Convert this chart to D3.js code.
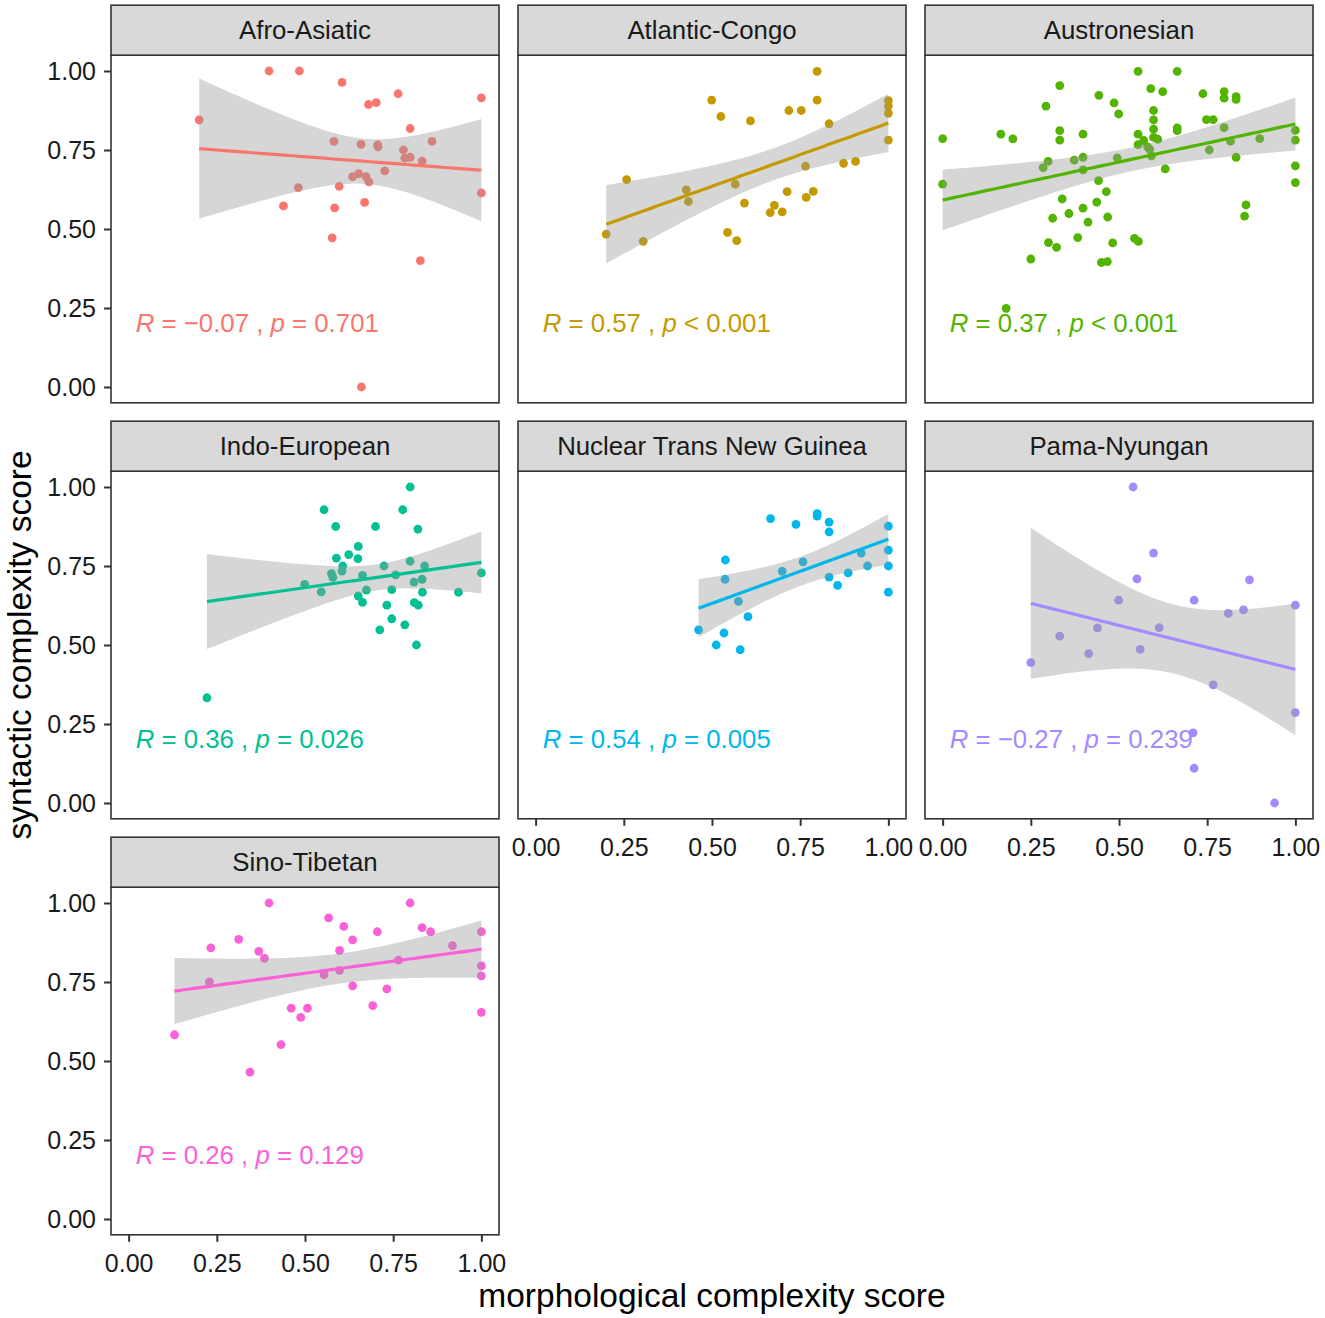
<!DOCTYPE html>
<html>
<head>
<meta charset="utf-8">
<script src="https://cdn.jsdelivr.net/npm/d3@7"></script>
<style>
  body { margin: 0; background: #fff; }
  text { font-family: "Liberation Sans", Arial, sans-serif; }
</style>
</head>
<body>
<svg id="chart" width="1325" height="1318"></svg>
<script>
// facet names, in panel order
var families = ["Afro-Asiatic", "Atlantic-Congo", "Austronesian", "Indo-European",
    "Nuclear Trans New Guinea", "Pama-Nyungan", "Sino-Tibetan"]

// [morphological, syntactic] per language
var afroAsiatic = [[0.200,0.845],[0.398,1.00],[0.484,1.00],[0.605,0.964],[0.680,0.894],[0.702,0.900],
    [0.764,0.928],[1.00,0.915],[0.798,0.818],[0.582,0.777],[0.659,0.768],[0.706,0.766],[0.707,0.760],
    [0.860,0.777],[0.779,0.750],[0.783,0.724],[0.798,0.727],[0.832,0.715],[0.726,0.684],[0.635,0.666],
    [0.652,0.675],[0.673,0.666],[0.681,0.649],[0.481,0.631],[0.597,0.635],[0.439,0.573],[0.584,0.567],
    [0.669,0.584],[1.00,0.614],[0.577,0.472],[0.827,0.400],[0.660,0.00]]

var atlanticCongo = [[0.200,0.484],[0.258,0.656],[0.305,0.461],[0.427,0.624],[0.433,0.587],[0.499,0.908],
    [0.525,0.856],[0.544,0.489],[0.570,0.463],[0.566,0.642],[0.592,0.582],[0.609,0.842],[0.677,0.575],
    [0.665,0.552],[0.699,0.554],[0.713,0.618],[0.718,0.875],[0.753,0.875],[0.765,0.699],[0.767,0.600],
    [0.787,0.619],[0.798,0.999],[0.798,0.908],[0.832,0.833],[0.873,0.708],[0.907,0.714],[1.00,0.906],
    [1.00,0.889],[1.00,0.866],[1.00,0.781]]

var austronesian = [[0.000,0.786],[0.000,0.642],[0.165,0.800],[0.199,0.785],[0.250,0.405],[0.180,0.249],
    [0.285,0.694],[0.299,0.714],[0.293,0.889],[0.300,0.457],[0.312,0.534],[0.323,0.442],[0.332,0.954],
    [0.332,0.811],[0.332,0.781],[0.339,0.595],[0.358,0.549],[0.373,0.718],[0.383,0.473],[0.398,0.800],
    [0.398,0.727],[0.398,0.687],[0.398,0.566],[0.412,0.522],[0.437,0.585],[0.442,0.653],[0.443,0.923],
    [0.450,0.394],[0.467,0.397],[0.464,0.618],[0.468,0.538],[0.482,0.456],[0.486,0.899],[0.495,0.725],
    [0.499,0.864],[0.544,0.470],[0.555,0.461],[0.554,0.999],[0.554,0.800],[0.554,0.767],[0.570,0.780],
    [0.581,0.760],[0.587,0.752],[0.592,0.731],[0.590,0.944],[0.598,0.875],[0.598,0.845],[0.598,0.816],
    [0.598,0.790],[0.610,0.784],[0.624,0.935],[0.631,0.690],[0.665,0.999],[0.665,0.820],[0.665,0.811],
    [0.738,0.928],[0.748,0.846],[0.767,0.846],[0.756,0.750],[0.798,0.935],[0.798,0.914],[0.832,0.919],
    [0.832,0.910],[0.798,0.821],[0.816,0.778],[0.832,0.727],[0.860,0.576],[0.856,0.541],[0.899,0.786],
    [1.00,0.812],[1.00,0.781],[1.00,0.700],[1.00,0.647]]

var indoEuropean = [[0.222,0.333],[0.499,0.692],[0.546,0.668],[0.554,0.928],[0.575,0.726],[0.579,0.714],
    [0.587,0.875],[0.589,0.775],[0.607,0.750],[0.605,0.734],[0.624,0.786],[0.651,0.812],[0.650,0.773],
    [0.663,0.720],[0.674,0.674],[0.651,0.655],[0.663,0.635],[0.700,0.875],[0.712,0.548],[0.724,0.750],
    [0.732,0.626],[0.746,0.675],[0.746,0.583],[0.757,0.722],[0.777,0.928],[0.783,0.564],[0.798,1.00],
    [0.798,0.765],[0.809,0.699],[0.810,0.634],[0.821,0.626],[0.820,0.867],[0.816,0.500],[0.832,0.708],
    [0.833,0.667],[0.839,0.750],[0.935,0.667],[1.00,0.728]]

var nuclearTNG = [[0.462,0.548],[0.512,0.500],[0.534,0.538],[0.538,0.769],[0.537,0.708],[0.575,0.638],
    [0.580,0.485],[0.602,0.590],[0.666,0.900],[0.699,0.733],[0.738,0.882],[0.758,0.763],[0.798,0.916],
    [0.798,0.908],[0.832,0.889],[0.832,0.858],[0.832,0.715],[0.856,0.689],[0.886,0.728],[0.923,0.791],
    [0.941,0.750],[1.00,0.876],[1.00,0.800],[1.00,0.750],[1.00,0.667]]

var pamaNyungan = [[0.250,0.444],[0.332,0.528],[0.414,0.473],[0.439,0.554],[0.499,0.642],[0.540,1.00],
    [0.551,0.709],[0.560,0.486],[0.598,0.791],[0.614,0.555],[0.713,0.642],[0.710,0.222],[0.713,0.110],
    [0.767,0.374],[0.810,0.600],[0.853,0.611],[0.870,0.706],[0.941,0.00],[1.00,0.626],[1.00,0.286]]

var sinoTibetan = [[0.130,0.583],[0.229,0.750],[0.233,0.858],[0.312,0.885],[0.344,0.465],[0.369,0.847],
    [0.385,0.825],[0.398,1.00],[0.432,0.552],[0.461,0.667],[0.488,0.638],[0.507,0.667],[0.554,0.773],
    [0.567,0.953],[0.598,0.787],[0.598,0.850],[0.610,0.926],[0.635,0.883],[0.635,0.738],[0.692,0.675],
    [0.705,0.909],[0.732,0.728],[0.765,0.819],[0.798,1.00],[0.832,0.922],[0.856,0.909],[0.918,0.865],
    [1.00,0.909],[1.00,0.801],[1.00,0.769],[1.00,0.654]]

var familyPoints = [afroAsiatic, atlanticCongo, austronesian, indoEuropean, nuclearTNG, pamaNyungan, sinoTibetan]

// correlation labels as printed in each panel
var rValues = ["\u22120.07", "0.57", "0.37", "0.36", "0.54", "\u22120.27", "0.26"]
var pValues = ["= 0.701", "< 0.001", "< 0.001", "= 0.026", "= 0.005", "= 0.239", "= 0.129"]

var tickValues = [0, 0.25, 0.5, 0.75, 1]

// ggplot default hue palette for 7 groups
var palette = ["#F8766D", "#C49A00", "#53B400", "#00C094", "#00B6EB", "#A58AFF", "#FB61D7"]

var panelW = 388, panelH = 347.6, stripH = 50
var left0 = 111, top0 = 55.2, stepX = 407, stepY = 416
var tickFont = 25, stripFont = 25.8, labelFont = 25.8, titleFont = 33.5

var svg = d3.select("#chart")

var xScale = d3.scaleLinear().domain([-0.05, 1.05]).range([0, panelW])
var yScale = d3.scaleLinear().domain([-0.05, 1.05]).range([panelH, 0])

// 97.5% quantile of the t distribution (Cornish-Fisher expansion)
function tQuantile(df) {
    var z = 1.959964
    var z3 = Math.pow(z, 3), z5 = Math.pow(z, 5), z7 = Math.pow(z, 7)
    return z + (z3 + z) / (4 * df)
        + (5 * z5 + 16 * z3 + 3 * z) / (96 * df * df)
        + (3 * z7 + 19 * z5 + 17 * z3 - 15 * z) / (384 * df * df * df)
}

// lm fit with 95% confidence band, like geom_smooth(method = "lm")
function fitLm(pts) {
    var n = pts.length
    var mx = d3.mean(pts, function(d) { return d[0] })
    var my = d3.mean(pts, function(d) { return d[1] })
    var sxx = d3.sum(pts, function(d) { return (d[0] - mx) * (d[0] - mx) })
    var sxy = d3.sum(pts, function(d) { return (d[0] - mx) * (d[1] - my) })
    var b = sxy / sxx, a = my - b * mx
    var sse = d3.sum(pts, function(d) { var r = d[1] - (a + b * d[0]); return r * r })
    var s = Math.sqrt(sse / (n - 2))
    var t = tQuantile(n - 2)
    var ext = d3.extent(pts, function(d) { return d[0] })
    return d3.range(80).map(function(k) {
        var x = ext[0] + (ext[1] - ext[0]) * k / 79
        var fit = a + b * x
        var se = s * Math.sqrt(1 / n + (x - mx) * (x - mx) / sxx)
        return {x: x, y: fit, lo: fit - t * se, hi: fit + t * se}
    })
}

for (var i = 0; i < families.length; i++) {
    var col = i % 3, row = Math.floor(i / 3)
    var g = svg.append("g")
        .attr("transform", "translate(" + (left0 + col * stepX) + "," + (top0 + row * stepY) + ")")

    g.append("rect")
        .attr("width", panelW).attr("height", panelH)
        .attr("fill", "#fff")

    // points first, the ribbon is drawn over them
    g.selectAll(".pt")
        .data(familyPoints[i])
        .enter().append("circle")
        .attr("cx", function(d) { return xScale(d[0]) })
        .attr("cy", function(d) { return yScale(d[1]) })
        .attr("r", 4.4)
        .attr("fill", palette[i])

    var fit = fitLm(familyPoints[i])

    g.append("path")
        .datum(fit)
        .attr("d", d3.area()
            .x(function(d) { return xScale(d.x) })
            .y0(function(d) { return yScale(d.lo) })
            .y1(function(d) { return yScale(d.hi) }))
        .attr("fill", "#999999")
        .attr("fill-opacity", 0.4)

    g.append("path")
        .datum(fit)
        .attr("d", d3.line()
            .x(function(d) { return xScale(d.x) })
            .y(function(d) { return yScale(d.y) }))
        .attr("fill", "none")
        .attr("stroke", palette[i])
        .attr("stroke-width", 3.2)

    var label = g.append("text")
        .attr("x", xScale(0.02))
        .attr("y", yScale(0.175))
        .attr("fill", palette[i])
        .style("font-size", labelFont + "px")
        .style("white-space", "pre")
    label.append("tspan").attr("font-style", "italic").text("R")
    label.append("tspan").text(" = " + rValues[i] + " , ")
    label.append("tspan").attr("font-style", "italic").text("p")
    label.append("tspan").text(" " + pValues[i])

    g.append("rect")
        .attr("width", panelW).attr("height", panelH)
        .attr("fill", "none")
        .attr("stroke", "#333")
        .attr("stroke-width", 1.6)

    // strip
    g.append("rect")
        .attr("y", -stripH).attr("width", panelW).attr("height", stripH)
        .attr("fill", "#D9D9D9")
        .attr("stroke", "#333")
        .attr("stroke-width", 1.6)
    g.append("text")
        .attr("x", panelW / 2).attr("y", -stripH / 2)
        .attr("text-anchor", "middle")
        .attr("dy", "0.35em")
        .attr("fill", "#1a1a1a")
        .style("font-size", stripFont + "px")
        .text(families[i])

    if (col == 0) {
        var ya = g.append("g")
            .call(d3.axisLeft(yScale).tickValues(tickValues).tickFormat(d3.format(".2f"))
                .tickSize(7).tickPadding(8))
        ya.select(".domain").remove()
        ya.selectAll("line").attr("stroke", "#333").attr("stroke-width", 2)
        ya.selectAll("text").attr("fill", "#1a1a1a").style("font-size", tickFont + "px")
            .style("font-family", "Liberation Sans, Arial, sans-serif")
    }

    if (i + 3 >= families.length) {
        var xa = g.append("g")
            .attr("transform", "translate(0," + panelH + ")")
            .call(d3.axisBottom(xScale).tickValues(tickValues).tickFormat(d3.format(".2f"))
                .tickSize(7).tickPadding(12))
        xa.select(".domain").remove()
        xa.selectAll("line").attr("stroke", "#333").attr("stroke-width", 2)
        xa.selectAll("text").attr("fill", "#1a1a1a").style("font-size", tickFont + "px")
            .style("font-family", "Liberation Sans, Arial, sans-serif")
    }
}

svg.append("text")
    .attr("x", left0 + (2 * stepX + panelW) / 2)
    .attr("y", 1307)
    .attr("text-anchor", "middle")
    .style("font-size", titleFont + "px")
    .text("morphological complexity score")

svg.append("text")
    .attr("transform", "translate(31," + (top0 + (2 * stepY + panelH) / 2) + ") rotate(-90)")
    .attr("text-anchor", "middle")
    .style("font-size", titleFont + "px")
    .text("syntactic complexity score")
</script>
</body>
</html>
